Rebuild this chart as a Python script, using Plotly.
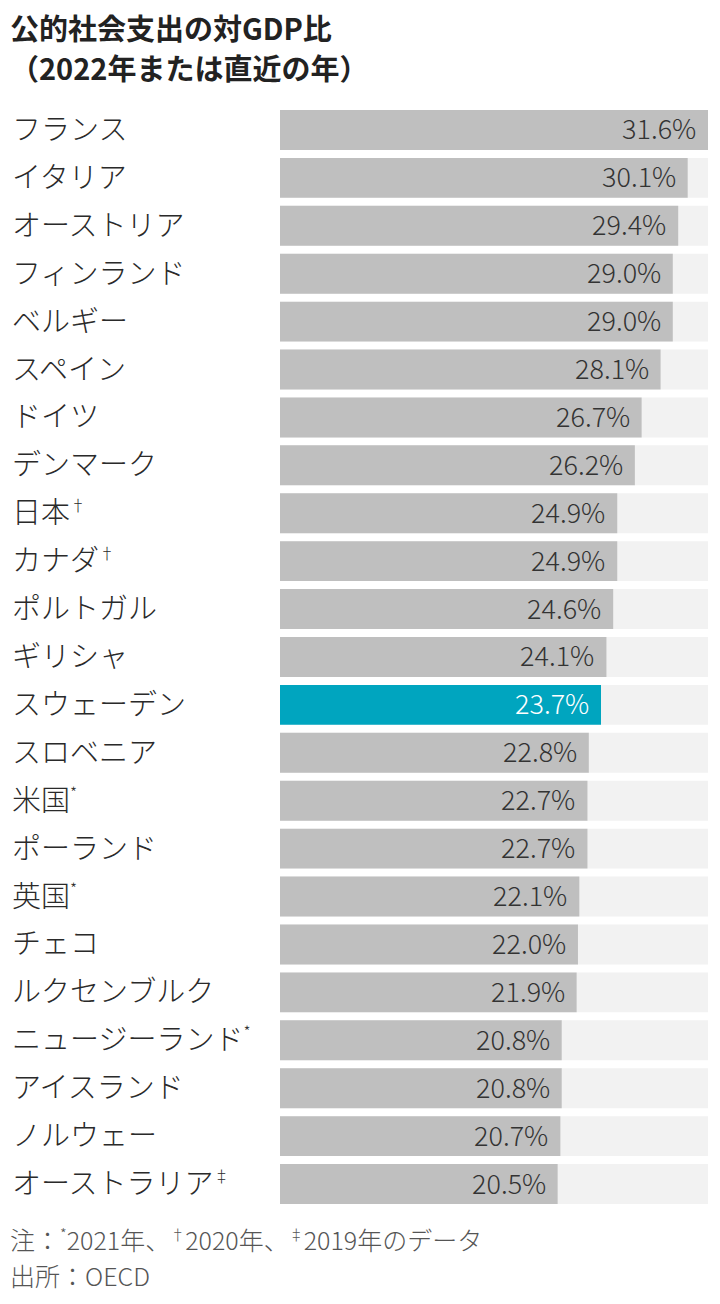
import plotly.graph_objects as go

countries = ["フランス", "イタリア", "オーストリア", "フィンランド", "ベルギー", "スペイン", "ドイツ",
             "デンマーク", "日本", "カナダ", "ポルトガル", "ギリシャ", "スウェーデン", "スロベニア",
             "米国", "ポーランド", "英国", "チェコ", "ルクセンブルク", "ニュージーランド", "アイスランド",
             "ノルウェー", "オーストラリア"]
marks = ["", "", "", "", "", "", "", "", "†", "†", "", "", "", "", "*", "", "*", "", "", "*", "", "", "‡"]
values = [31.6, 30.1, 29.4, 29.0, 29.0, 28.1, 26.7, 26.2, 24.9, 24.9, 24.6, 24.1, 23.7, 22.8,
          22.7, 22.7, 22.1, 22.0, 21.9, 20.8, 20.8, 20.7, 20.5]
highlight = "スウェーデン"
title_lines = ["公的社会支出の対GDP比", "（2022年または直近の年）"]

FONT = "Noto Sans CJK JP, Noto Sans, sans-serif"
GRAY = "#bfbfbf"
TRACK = "#f2f2f2"
TEAL = "#00a5bf"

W, H = 720, 1304
ml, mr, mt, mb = 0, 12, 106, 94
plot_w = W - ml - mr
x0_px = 280
dom0 = x0_px / plot_w
xmax = max(values)

fig = go.Figure()
fig.add_trace(go.Bar(y=countries, x=[xmax] * len(values), orientation="h",
                     marker=dict(color=TRACK, line=dict(width=0)), hoverinfo="skip"))
fig.add_trace(go.Bar(y=countries, x=values, orientation="h",
                     marker=dict(color=[TEAL if c == highlight else GRAY for c in countries],
                                 line=dict(width=0))))

annotations = []
for c, m, v in zip(countries, marks, values):
    txt = c + (f"<sup><span style='font-size:16px'>{m}</span></sup>" if m else "")
    annotations.append(dict(x=14 / plot_w, xref="paper", y=c, yref="y", text=txt,
                            xanchor="left", yanchor="middle", xshift=-4, yshift=3, showarrow=False,
                            font=dict(family=FONT, size=29, color="#2a2a2a", weight=300)))
    annotations.append(dict(x=v, xref="x", y=c, yref="y", text=f"{v:.1f}%",
                            xanchor="right", yanchor="middle", xshift=-10, yshift=2, showarrow=False,
                            font=dict(family=FONT, size=27, weight=300,
                                      color="#ffffff" if c == highlight else "#333333")))

plot_h = H - mt - mb
def py(px):
    return (H - mb - px) / plot_h

annotations.append(dict(x=12 / plot_w, xref="paper", y=py(27), yref="paper", text=f"<b>{title_lines[0]}</b>",
                        xanchor="left", yanchor="middle", xshift=-4, showarrow=False,
                        font=dict(family=FONT, size=29, color="#222222")))
annotations.append(dict(x=12 / plot_w, xref="paper", y=py(67), yref="paper", text=f"<b>{title_lines[1]}</b>",
                        xanchor="left", yanchor="middle", xshift=-4, showarrow=False,
                        font=dict(family=FONT, size=29, color="#222222")))
sm = lambda s: f"<sup><span style='font-size:15px'>{s}</span></sup>"
note = f"注：{sm('*')}2021年、{sm('†')}2020年、{sm('‡')}2019年のデータ"
annotations.append(dict(x=12 / plot_w, xref="paper", y=py(1239), yref="paper", text=note,
                        xanchor="left", yanchor="middle", xshift=-4, showarrow=False,
                        font=dict(family=FONT, size=25, color="#555555", weight=300)))
annotations.append(dict(x=12 / plot_w, xref="paper", y=py(1275), yref="paper", text="出所：OECD",
                        xanchor="left", yanchor="middle", xshift=-4, showarrow=False,
                        font=dict(family=FONT, size=25, color="#555555", weight=300)))

fig.update_layout(
    width=W, height=H, margin=dict(l=ml, r=mr, t=mt, b=mb),
    paper_bgcolor="white", plot_bgcolor="white",
    barmode="overlay", bargap=8 / 48, showlegend=False,
    xaxis=dict(domain=[dom0, 1], range=[0, xmax], visible=False, fixedrange=True),
    yaxis=dict(autorange="reversed", visible=False, fixedrange=True),
    annotations=annotations,
)
fig.write_html("out.html")
